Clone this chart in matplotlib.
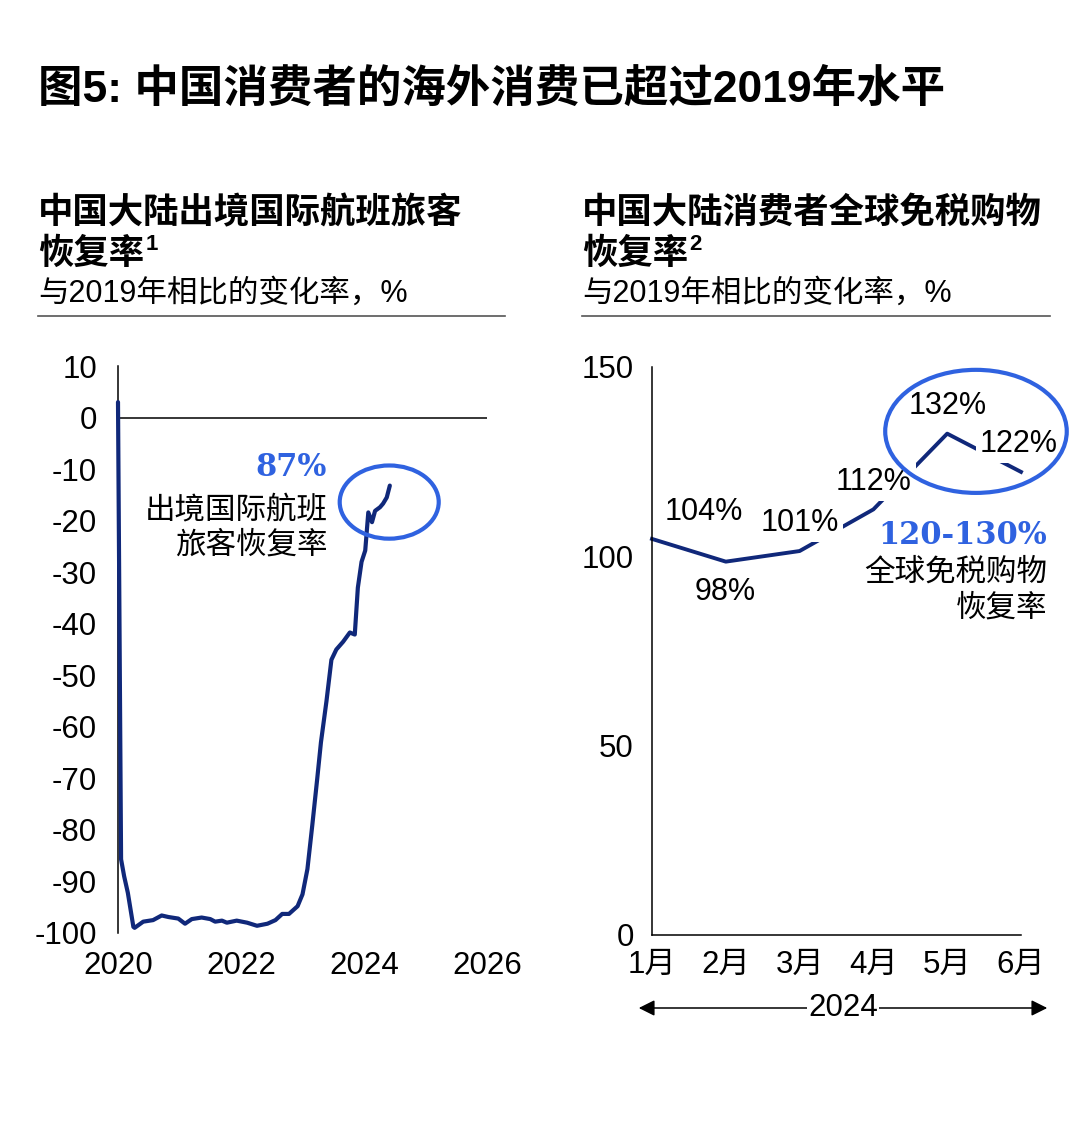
import matplotlib
matplotlib.use("Agg")
import matplotlib.pyplot as plt
from matplotlib.patches import Ellipse, FancyArrowPatch

plt.rcParams["font.family"] = ["Liberation Sans", "Noto Sans CJK SC", "DejaVu Sans"]
plt.rcParams["axes.unicode_minus"] = False

# ---- data -------------------------------------------------------------
# left: outbound international flight passengers vs 2019, %
flight_year = [2020.0, 2020.05, 2020.10, 2020.16, 2020.25, 2020.27, 2020.41, 2020.57,
               2020.71, 2020.82, 2020.98, 2021.09, 2021.20, 2021.36, 2021.50, 2021.58,
               2021.69, 2021.77, 2021.93, 2022.10, 2022.26, 2022.43, 2022.56, 2022.67,
               2022.78, 2022.92, 2023.00, 2023.08, 2023.16, 2023.24, 2023.30, 2023.39,
               2023.47, 2023.55, 2023.66, 2023.77, 2023.85, 2023.90, 2023.96, 2024.02,
               2024.07, 2024.13, 2024.18, 2024.26, 2024.31, 2024.37, 2024.42]
flight_chg = [3.0, -85.7, -89.0, -92.2, -98.8, -99.0, -97.8, -97.5,
              -96.6, -96.9, -97.2, -98.2, -97.3, -97.0, -97.3, -97.8,
              -97.6, -98.0, -97.6, -98.0, -98.6, -98.2, -97.5, -96.3,
              -96.3, -94.8, -92.5, -87.6, -79.0, -70.0, -63.0, -55.0,
              -47.0, -45.0, -43.5, -41.7, -42.1, -33.0, -28.0, -25.8,
              -18.4, -20.3, -18.1, -17.4, -16.7, -15.5, -13.2]
flight_xticks = [2020, 2022, 2024, 2026]
flight_yticks = [10, 0, -10, -20, -30, -40, -50, -60, -70, -80, -90, -100]

# right: global duty-free shopping recovery, 2024
months = ["1月", "2月", "3月", "4月", "5月", "6月"]
dutyfree = [104.6, 98.6, 101.4, 112.4, 132.4, 122.3]
dutyfree_labels = ["104%", "98%", "101%", "112%", "132%", "122%"]
dutyfree_yticks = [0, 50, 100, 150]

NAVY = "#10287a"
BLUE = "#2f62e0"
W, H = 1080, 1126
TICK_FS = 22.5


def fx(px):
    return px / W


def fy(py):
    return 1 - py / H


fig = plt.figure(figsize=(10.8, 11.26), dpi=100)
fig.patch.set_facecolor("white")

# ---- headings ---------------------------------------------------------
fig.text(fx(38), fy(90), "图5: 中国消费者的海外消费已超过2019年水平",
         fontsize=32, fontweight="bold", va="center", ha="left")


def heading(x0, x1, line1, line2, sup):
    fig.text(fx(x0), fy(213), line1, fontsize=25.5, fontweight="bold",
             va="center", ha="left")
    t = fig.text(fx(x0), fy(254), line2, fontsize=25.5, fontweight="bold",
                 va="center", ha="left")
    fig.canvas.draw()
    bb = t.get_window_extent()
    fig.text(bb.x1 / W + 0.001, fy(245), sup, fontsize=16, fontweight="bold",
             va="center", ha="left")
    fig.text(fx(x0), fy(294), "与2019年相比的变化率，%", fontsize=22,
             va="center", ha="left")
    fig.add_artist(plt.Line2D([fx(x0), fx(x1)], [fy(316), fy(316)],
                              color="#555555", lw=1.2))


heading(38, 505, "中国大陆出境国际航班旅客", "恢复率", "1")
heading(582, 1050, "中国大陆消费者全球免税购物", "恢复率", "2")

# ---- left chart -------------------------------------------------------
ax1 = fig.add_axes([fx(118), fy(933), fx(487) - fx(118), fy(366) - fy(933)])
ax1.plot(flight_year, flight_chg, color=NAVY, lw=3, clip_on=False,
         solid_joinstyle="round", solid_capstyle="round", zorder=3)
ax1.axhline(0, color="black", lw=1.1, zorder=2)
ax1.set_xlim(2020, 2026)
ax1.set_ylim(-100, 10)
ax1.set_xticks(flight_xticks)
ax1.set_yticks(flight_yticks)
ax1.tick_params(axis="y", length=0, pad=15, labelsize=TICK_FS)
ax1.tick_params(axis="x", length=0, pad=13, labelsize=TICK_FS)
for s in ["top", "right", "bottom"]:
    ax1.spines[s].set_visible(False)
ax1.spines["left"].set_linewidth(1.1)
ax1.patch.set_alpha(0)

ax1.text(2023.40, -9.7, "87%", color=BLUE, fontsize=22, fontweight="bold",
         family="DejaVu Serif", ha="right", va="center")
ax1.text(2023.41, -18.1, "出境国际航班", fontsize=22, ha="right", va="center")
ax1.text(2023.41, -24.9, "旅客恢复率", fontsize=22, ha="right", va="center")
ax1.add_patch(Ellipse((2024.41, -16.4), 1.61, 14.2, fill=False,
                      edgecolor=BLUE, lw=3, zorder=4, clip_on=False))

# ---- right chart ------------------------------------------------------
ax2 = fig.add_axes([fx(652), fy(935), fx(1021) - fx(652), fy(367) - fy(935)])
x = list(range(1, len(months) + 1))
ax2.plot(x, dutyfree, color=NAVY, lw=2.8, clip_on=False, zorder=2)
ax2.set_xlim(1, 6)
ax2.set_ylim(0, 150)
ax2.set_xticks(x)
ax2.set_xticklabels(months)
ax2.set_yticks(dutyfree_yticks)
ax2.tick_params(axis="y", length=0, pad=13, labelsize=TICK_FS)
ax2.tick_params(axis="x", length=0, pad=11, labelsize=TICK_FS)
for s in ["top", "right"]:
    ax2.spines[s].set_visible(False)
for s in ["left", "bottom"]:
    ax2.spines[s].set_linewidth(1.1)
ax2.patch.set_alpha(0)

label_pos = [(1.70, 111.7), (1.99, 90.6), (3.0, 108.8),
             (4.0, 119.6), (5.0, 139.7), (5.97, 129.7)]
for (lx, ly), lab in zip(label_pos, dutyfree_labels):
    ax2.text(lx, ly, lab, fontsize=22, ha="center", va="center", zorder=3,
             bbox=dict(facecolor="white", edgecolor="none", pad=3))

ax2.add_patch(Ellipse((5.39, 133.0), 2.46, 32.5, fill=False,
                      edgecolor=BLUE, lw=3, zorder=4, clip_on=False))
ax2.text(6.35, 105.6, "120-130%", color=BLUE, fontsize=22, fontweight="bold",
         family="DejaVu Serif", ha="right", va="center", clip_on=False)
ax2.text(6.35, 95.6, "全球免税购物", fontsize=22, ha="right", va="center")
ax2.text(6.35, 86.1, "恢复率", fontsize=22, ha="right", va="center")

# year bracket under the months
fig.add_artist(FancyArrowPatch(
    (fx(636), fy(1008)), (fx(1050), fy(1008)), transform=fig.transFigure,
    arrowstyle="<|-|>", mutation_scale=24, color="black", lw=1.1))
fig.text(fx(843), fy(1008), "2024", fontsize=TICK_FS, ha="center", va="center",
         bbox=dict(facecolor="white", edgecolor="none", pad=1))

fig.savefig("out.png", dpi=100, facecolor="white")
